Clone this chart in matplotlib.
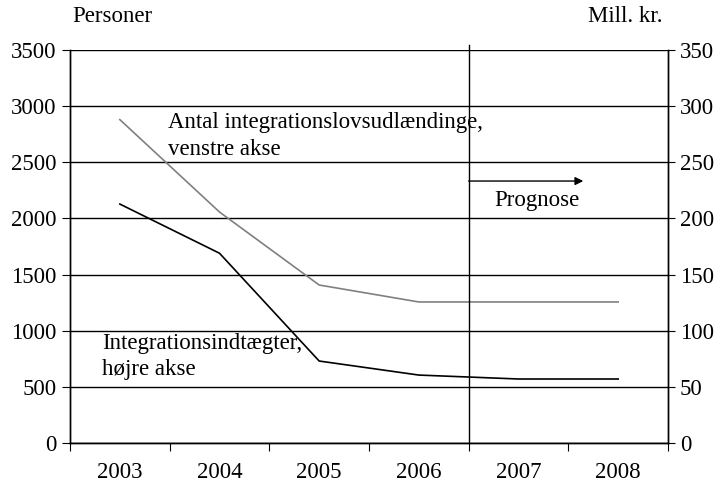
import matplotlib.pyplot as plt
import numpy as np

plt.rcParams['font.family'] = ['Liberation Serif', 'DejaVu Serif']
plt.rcParams['font.size'] = 16.5

# data
years = ['2003', '2004', '2005', '2006', '2007', '2008']
personer = [2880, 2057, 1407, 1256, 1256, 1256]        # venstre akse
indtaegter = [212.8, 169, 73, 60.5, 57, 57]             # hoejre akse (mill. kr.)

x = np.arange(len(years))

fig = plt.figure(figsize=(7.15, 4.86), dpi=100)
ax = fig.add_axes([70 / 715, 43 / 486, 598 / 715, 393 / 486])
ax2 = ax.twinx()

ax.set_xlim(-0.5, len(years) - 0.5)
ax.set_ylim(0, 3500)
ax2.set_ylim(0, 350)

ax.set_yticks(np.arange(0, 3501, 500))
ax2.set_yticks(np.arange(0, 351, 50))
ax.yaxis.grid(True, color='black', linewidth=1)
ax.set_axisbelow(True)

# kategori-akse: ticks mellem kategorierne
ax.set_xticks(np.arange(-0.5, len(years)), minor=False)
ax.set_xticklabels([])
ax.set_xticks(x, minor=True)
ax.set_xticklabels(years, minor=True)
ax.tick_params(axis='x', which='major', length=6, direction='out', color='black')
ax.tick_params(axis='x', which='minor', length=0, pad=14)
ax.tick_params(axis='y', length=6, direction='out')
ax2.tick_params(axis='y', length=5, direction='out')

for a in (ax, ax2):
    a.spines['top'].set_visible(False)
    for s in a.spines.values():
        s.set_linewidth(1)

ax.plot(x, personer, color='#808080', linewidth=1.2)
ax2.plot(x, indtaegter, color='black', linewidth=1.2)

# prognose-markering
ax.plot([3.5, 3.5], [0, 3545], color='black', linewidth=1, clip_on=False)
ax.annotate('', xy=(4.65, 2333), xytext=(3.5, 2333),
            arrowprops=dict(arrowstyle='-|>', color='black', linewidth=1,
                            mutation_scale=12, shrinkA=0, shrinkB=0))
ax.text(4.18, 2160, 'Prognose', ha='center', va='center')

ax.text(0.48, 2735, 'Antal integrationslovsudlændinge,\nvenstre akse',
        ha='left', va='center', linespacing=1.35)
ax.text(-0.18, 770, 'Integrationsindtægter,\nhøjre akse',
        ha='left', va='center', linespacing=1.35)

fig.text(112 / 715, 1 - 17 / 486, 'Personer', ha='center', va='center')
fig.text(625 / 715, 1 - 17 / 486, 'Mill. kr.', ha='center', va='center')

fig.savefig('out.png', dpi=100)
